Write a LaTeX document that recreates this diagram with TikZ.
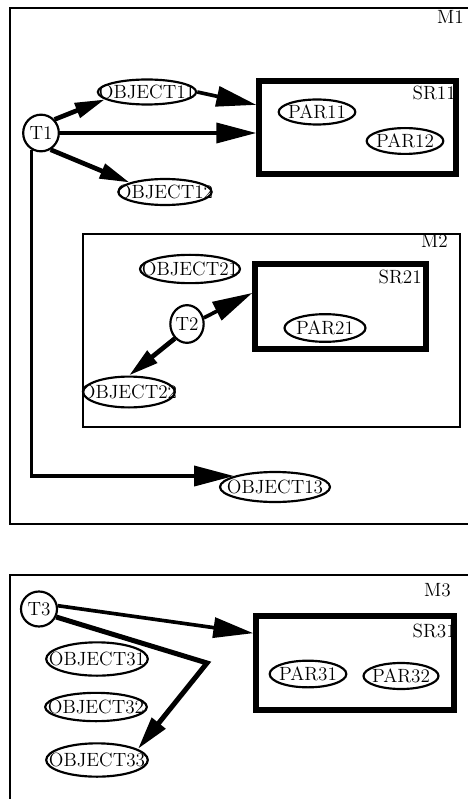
\documentclass[tikz,border=0pt]{standalone}
\usetikzlibrary{arrows.meta,positioning,calc,shapes.geometric,fit}
\newcommand{\ovtext}[1]{\makebox[0pt]{#1}}

\begin{document}
\begin{tikzpicture}[x=0.6pt,y=-0.6pt,
  every node/.style={font=\fontsize{11.5}{13}\selectfont},
  modbox/.style={draw,line width=1.6pt},
  srbox/.style={draw,line width=3.2pt,inner sep=0pt},
  objnode/.style={ellipse,draw,line width=1.3pt,inner sep=0pt},
  lbl/.style={anchor=east,inner sep=0pt},
  biglink/.style={line width=2.2pt,-{Triangle[length=24pt,width=12pt]}},
  smalllink/.style={line width=2.8pt,-{Triangle[length=18pt,width=9pt]}}]
  \useasboundingbox (0,0) rectangle (468,799);
  \clip (0,0) rectangle (468,799);
  % modules
  \draw[modbox] (10,8) rectangle (490,524);
  \node[lbl] (m1lbl) at (464,17) {M1};
  \draw[modbox] (83,234) rectangle (460,427);
  \node[lbl] (m2lbl) at (448,241) {M2};
  \draw[modbox] (10,575) rectangle (490,820);
  \node[lbl] (m3lbl) at (451,590) {M3};
  % shared regions
  \node[srbox,fit={(259,81) (456,174)}] (sr11) {};
  \node[lbl] (sr11lbl) at (456,93) {SR11};
  \node[srbox,fit={(255,264) (426,349)}] (sr21) {};
  \node[lbl] (sr21lbl) at (422,277) {SR21};
  \node[srbox,fit={(256,616) (454,710)}] (sr31) {};
  \node[lbl] (sr31lbl) at (456,631) {SR31};
  % tasks, objects, parameters
  \node[objnode,minimum width=21.4pt,minimum height=22pt] (t1) at (41,133) {\ovtext{T1}};
  \node[objnode,minimum width=59pt,minimum height=15pt] (obj11) at (147,92) {\ovtext{OBJECT11}};
  \node[objnode,minimum width=56pt,minimum height=15.6pt] (obj12) at (165,192) {\ovtext{OBJECT12}};
  \node[objnode,minimum width=66pt,minimum height=18pt] (obj13) at (275,487) {\ovtext{OBJECT13}};
  \node[objnode,minimum width=46pt,minimum height=15pt] (par11) at (317,112) {\ovtext{PAR11}};
  \node[objnode,minimum width=46pt,minimum height=15.5pt] (par12) at (405,141) {\ovtext{PAR12}};
  \node[objnode,minimum width=20pt,minimum height=22.6pt] (t2) at (187,324) {\ovtext{T2}};
  \node[objnode,minimum width=60pt,minimum height=17pt] (obj21) at (190,269) {\ovtext{OBJECT21}};
  \node[objnode,minimum width=55pt,minimum height=18.5pt] (obj22) at (129,392) {\ovtext{OBJECT22}};
  \node[objnode,minimum width=48.6pt,minimum height=16.6pt] (par21) at (325,328) {\ovtext{PAR21}};
  \node[objnode,minimum width=21.6pt,minimum height=21pt] (t3) at (39,609) {\ovtext{T3}};
  \node[objnode,minimum width=61pt,minimum height=20pt] (obj31) at (97,659) {\ovtext{OBJECT31}};
  \node[objnode,minimum width=61pt,minimum height=17pt] (obj32) at (96,707) {\ovtext{OBJECT32}};
  \node[objnode,minimum width=61pt,minimum height=20pt] (obj33) at (97,760) {\ovtext{OBJECT33}};
  \node[objnode,minimum width=46pt,minimum height=16pt] (par31) at (308,674) {\ovtext{PAR31}};
  \node[objnode,minimum width=45pt,minimum height=15.6pt] (par32) at (401,676) {\ovtext{PAR32}};
  \coordinate (t3bend) at (207,663);
  % connectors
  \draw[smalllink] (t1.45) -- (obj11.190);
  \draw[biglink] (obj11.east) -- ($(sr11.north west)!0.27!(sr11.south west)$);
  \draw[biglink] (t1.east) -- (t1.east -| sr11.west);
  \draw[smalllink] (t1.-60) -- (obj12.165);
  \draw[biglink] (t1.240) |- (obj13.165);
  \draw[biglink] (t2.20) -- ($(sr21.north west)!0.35!(sr21.south west)$);
  \draw[smalllink] (t2.230) -- (obj22.north);
  \draw[biglink] (t3.10) -- ($(sr31.north west)!0.2!(sr31.south west)$);
  \draw[line width=3pt,-{Triangle[length=20pt,width=10pt]}] (t3.-25) -- (t3bend) -- (obj33.15);
\end{tikzpicture}
\end{document}
